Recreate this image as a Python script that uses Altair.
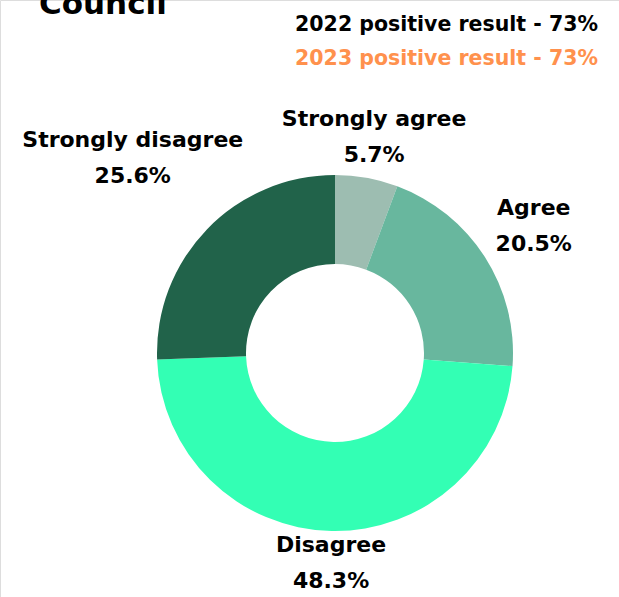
import altair as alt
import pandas as pd

categories = ["Strongly agree", "Agree", "Disagree", "Strongly disagree"]
values = [5.7, 20.5, 48.3, 25.6]
colors = ["#9dbdb1", "#68b79e", "#33ffb4", "#21634a"]
label_radius = [220, 236, 210, 281]
title_text = "Council"
result_lines = ["2022 positive result - 73%", "2023 positive result - 73%"]
result_colors = ["#000000", "#ff914d"]

df = pd.DataFrame({"cat": categories, "value": values, "idx": list(range(len(categories))), "lr": label_radius})

FONT = "DejaVu Sans"
CX, CY = 335, 353

base = alt.Chart(df)

arcs = base.mark_arc(innerRadius=89, outerRadius=178, stroke=None).encode(
    theta=alt.Theta("value:Q", stack=True),
    order=alt.Order("idx:Q"),
    color=alt.Color("cat:N", scale=alt.Scale(domain=categories, range=colors), legend=None),
    x=alt.value(CX),
    y=alt.value(CY),
)

labels = base.transform_window(
    cum="sum(value)", sort=[alt.SortField("idx")]
).transform_calculate(
    mid="datum.cum - datum.value / 2",
    label="datum.cat + '\\n' + format(datum.value, '.1f') + '%'"
).mark_text(
    font=FONT, fontSize=22, fontWeight="bold", lineBreak="\n", lineHeight=36,
    align="center", baseline="middle", color="#000000", dy=-18
).encode(
    theta=alt.Theta("mid:Q", stack=None),
    radius=alt.Radius("lr:Q", scale=None),
    text="label:N",
    x=alt.value(CX),
    y=alt.value(CY),
)

title = alt.Chart(pd.DataFrame({"t": [title_text]})).mark_text(
    font=FONT, fontSize=31, fontWeight="bold", align="left", baseline="alphabetic", color="#000000"
).encode(text="t:N", x=alt.value(39), y=alt.value(14))

res_df = pd.DataFrame({"t": result_lines, "c": result_colors, "i": [0, 1]})
results = alt.Chart(res_df).transform_calculate(yy="31 + datum.i * 34").mark_text(
    font=FONT, fontSize=20.5, fontWeight="bold", align="right", baseline="alphabetic"
).encode(
    text="t:N",
    color=alt.Color("c:N", scale=None),
    x=alt.value(598),
    y=alt.Y("yy:Q", scale=None),
)

chart = alt.layer(arcs, labels, title, results).properties(
    width=619, height=597, autosize=alt.AutoSizeParams(type="none"), padding=0
).configure_view(stroke=None).configure(background="#ffffff")

chart.save("out.html", embed_options={"renderer": "svg", "actions": False})
